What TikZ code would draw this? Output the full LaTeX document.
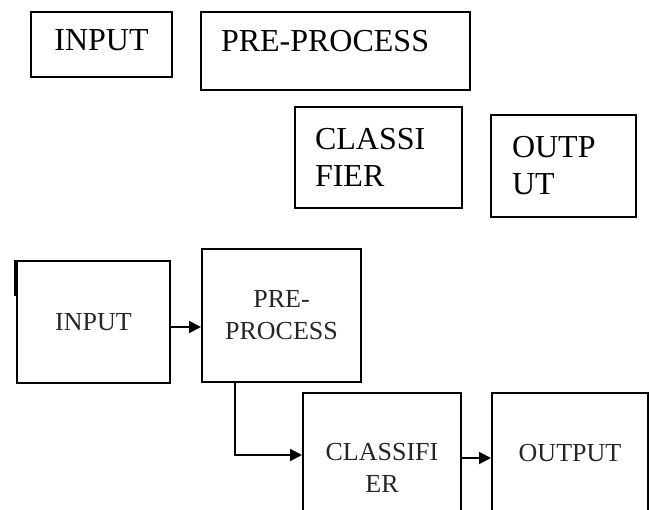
\documentclass[tikz,border=0pt]{standalone}
\usepackage{fontspec}
\setmainfont{Liberation Serif}
\usetikzlibrary{arrows.meta}

\begin{document}
\begin{tikzpicture}[x=1pt, y=-1pt]
    \tikzstyle{box}=[draw, line width=2pt, inner sep=0pt]
    \tikzstyle{bigtxt}=[font=\fontsize{32}{37}\selectfont]
    \tikzstyle{smalltxt}=[font=\fontsize{26}{32}\selectfont, text=black!85, align=center]
    \tikzstyle{arr}=[line width=2pt, -{Triangle[length=12pt, width=12pt]}]

    \clip (0,0) rectangle (649,510);

    \node[box, bigtxt, minimum width=141pt, minimum height=65pt, text depth=9pt] (input1) at (101.5, 44.5) {INPUT};
    \node[box, bigtxt, minimum width=269pt, minimum height=78pt, text width=229pt, align=left, text depth=21pt] (prep1) at (335.5, 51) {PRE-PROCESS};
    \node[box, bigtxt, minimum width=167pt, minimum height=101pt, text width=127pt, align=left] (class1) at (378.5, 157.5) {CLASSI\\FIER};
    \node[box, bigtxt, minimum width=145pt, minimum height=102pt, text width=103pt, align=left] (output1) at (563.5, 166) {OUTP\\UT};

    \node[box, smalltxt, minimum width=153pt, minimum height=122pt] (input2) at (93.5, 322) {INPUT};
    \node[box, smalltxt, minimum width=159pt, minimum height=133pt] (prep2) at (281.5, 315.5) {PRE-\\PROCESS};
    \node[box, smalltxt, minimum width=158pt, minimum height=150pt] (class2) at (382, 468) {CLASSIFI\\ER};
    \node[box, smalltxt, minimum width=156pt, minimum height=120pt] (output2) at (570, 453) {OUTPUT};

    \draw[line width=3.5pt] ([xshift=-0.5pt]input2.north west) -- ([xshift=-0.5pt, yshift=-36pt]input2.north west);

    \draw[arr] ([yshift=-5pt]input2.east) -- ([yshift=-5pt]input2.east -| prep2.west);
    \draw[arr] ([xshift=34pt]prep2.south west) |- ([yshift=13pt]class2.west);
    \draw[arr] ([yshift=10pt]class2.east) -- ([yshift=10pt]class2.east -| output2.west);
\end{tikzpicture}
\end{document}
